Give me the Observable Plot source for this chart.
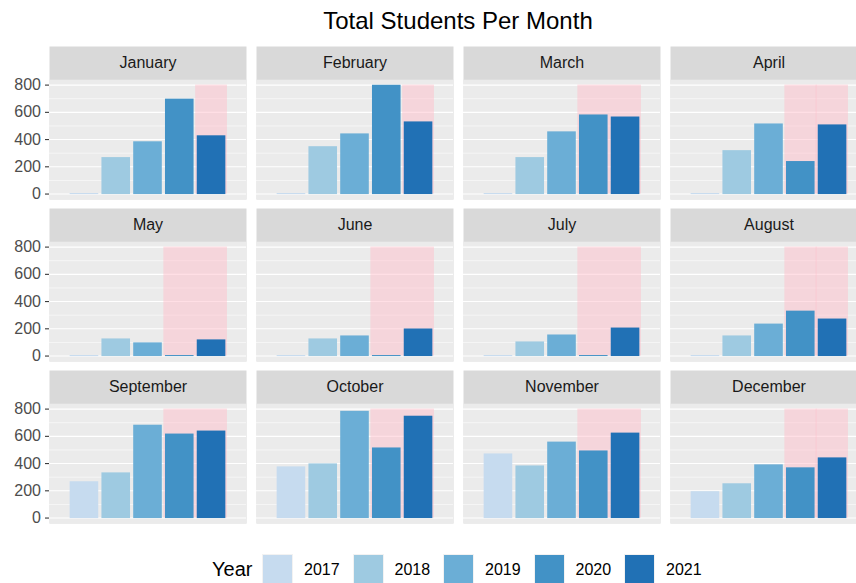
<!DOCTYPE html>
<html>
<head>
<meta charset="utf-8">
<script src="https://cdn.jsdelivr.net/npm/d3@7"></script>
<script src="https://cdn.jsdelivr.net/npm/@observablehq/plot@0.6"></script>
<style>
  body { margin: 0; background: #ffffff; }
  #wrap { position: relative; width: 856px; height: 583px; overflow: hidden; background: #ffffff;
          font-family: "Liberation Sans", Arial, Helvetica, sans-serif; }
  #title { position: absolute; left: 0; top: 8px; width: 916px; text-align: center;
           font-size: 24px; line-height: 26px; color: #000000; }
  #chart { position: absolute; left: 0; top: 40px; }
  #legend { position: absolute; left: 212px; top: 554px; height: 31px; display: flex; align-items: center; }
  #legend .ltitle { font-size: 20px; color: #000000; margin-right: 10px; width: 40px; }
  #legend .key { width: 31px; height: 31px; box-sizing: border-box; border: 1px solid #f2f2f2; margin-right: 11px; }
  #legend .lab { font-size: 16px; color: #000000; width: 37.5px; margin-right: 11px; }
</style>
</head>
<body>
<div id="wrap">
  <div id="title">Total Students Per Month</div>
  <div id="chart"></div>
  <div id="legend"></div>
</div>
<script>
// ---- data ----
const months = ["January", "February", "March", "April", "May", "June",
                "July", "August", "September", "October", "November", "December"];
const years = [2017, 2018, 2019, 2020, 2021];
const students2017 = [0, 0, 0, 0, 0, 0, 0, 0, 263, 372, 467, 190];
const students2018 = [264, 344, 264, 315, 122, 122, 100, 144, 328, 394, 379, 248];
const students2019 = [380, 438, 453, 511, 93, 144, 151, 231, 678, 780, 554, 387];
const students2020 = [693, 795, 577, 235, 0, 0, 0, 326, 613, 511, 489, 365];
const students2021 = [424, 526, 562, 504, 115, 195, 202, 268, 635, 744, 620, 438];
const yTicks = [0, 200, 400, 600, 800];
const yMinorTicks = [100, 300, 500, 700];
// covid shading periods (in year units) per month
const shadeMonth = ["January", "February", "March", "April", "April", "May", "June", "July",
                    "August", "August", "September", "October", "November", "December", "December"];
const shadeFrom = [2020.5, 2020.5, 2019.5, 2019.5, 2020.485, 2019.5, 2019.5, 2019.5,
                   2019.5, 2020.485, 2019.5, 2019.5, 2019.5, 2019.5, 2020.485];
const shadeTo   = [2021.5, 2021.5, 2021.5, 2020.515, 2021.5, 2021.5, 2021.5, 2021.5,
                   2020.515, 2021.5, 2021.5, 2021.5, 2021.5, 2020.515, 2021.5];
const shadeTop = 800;

// ---- styles ----
const palette = ["#c6dbef", "#9ecae1", "#6baed6", "#4292c6", "#2171b5"];
const fontFamily = '"Liberation Sans", Arial, Helvetica, sans-serif';

// ---- build tables ----
const series = [students2017, students2018, students2019, students2020, students2021];
const col = (m) => months.indexOf(m) % 4;
const row = (m) => Math.floor(months.indexOf(m) / 4);
const bars = [];
months.forEach((m, i) => years.forEach((y, j) => bars.push({month: m, year: y, value: series[j][i]})));
const shades = shadeMonth.map((m, k) => ({month: m, from: shadeFrom[k], to: shadeTo[k], top: shadeTop}));
const strips = months.map((m) => ({month: m}));

const stripPx = 33.2;
const rowStep = 162.85;
const rowGap = 9.35;

const chart = Plot.plot({
  width: 856,
  height: 500,
  marginLeft: 49,
  marginRight: -11,
  marginTop: 4.3,
  marginBottom: 16.5,
  style: {fontFamily, background: "transparent", maxWidth: "none", overflow: "visible"},
  fx: {domain: [0, 1, 2, 3], paddingInner: 10 / 207, paddingOuter: 0, axis: null},
  fy: {domain: [0, 1, 2], paddingInner: rowGap / rowStep, paddingOuter: 0, axis: null},
  x: {domain: [2015.9, 2022.1], axis: null},
  y: {domain: [-40, 1083.4]},
  color: {type: "ordinal", domain: years, range: palette},
  marks: [
    Plot.frame({fill: "#d9d9d9", stroke: null}),
    Plot.frame({fill: "#ebebeb", stroke: null, insetTop: stripPx}),
    Plot.gridY(yMinorTicks, {stroke: "#ffffff", strokeOpacity: 1, strokeWidth: 0.55}),
    Plot.gridY(yTicks, {stroke: "#ffffff", strokeOpacity: 1, strokeWidth: 1.1}),
    Plot.rect(shades, {
      x1: "from", x2: "to", y1: 0, y2: "top",
      fx: (d) => col(d.month), fy: (d) => row(d.month),
      fill: "pink", fillOpacity: 0.5
    }),
    Plot.rect(bars, {
      x1: (d) => d.year - 0.45, x2: (d) => d.year + 0.45, y1: 0, y2: "value",
      fx: (d) => col(d.month), fy: (d) => row(d.month),
      fill: "year", insetTop: -0.5, insetBottom: -0.5
    }),
    Plot.text(strips, {
      text: "month", fx: (d) => col(d.month), fy: (d) => row(d.month),
      frameAnchor: "top", lineAnchor: "middle", dy: stripPx / 2, fontSize: 16, fill: "#1a1a1a"
    }),
    Plot.axisY(yTicks, {
      tickSize: 4, tickPadding: 4.5, fontSize: 16, fill: "#4d4d4d",
      stroke: "#333333", strokeWidth: 1.07, label: null
    })
  ]
});
document.getElementById("chart").appendChild(chart);

// ---- legend ----
const legend = document.getElementById("legend");
const lt = document.createElement("div");
lt.className = "ltitle";
lt.textContent = "Year";
legend.appendChild(lt);
years.forEach((y, j) => {
  const k = document.createElement("div");
  k.className = "key";
  k.style.background = palette[j];
  legend.appendChild(k);
  const l = document.createElement("div");
  l.className = "lab";
  l.textContent = String(y);
  legend.appendChild(l);
});
</script>
</body>
</html>
